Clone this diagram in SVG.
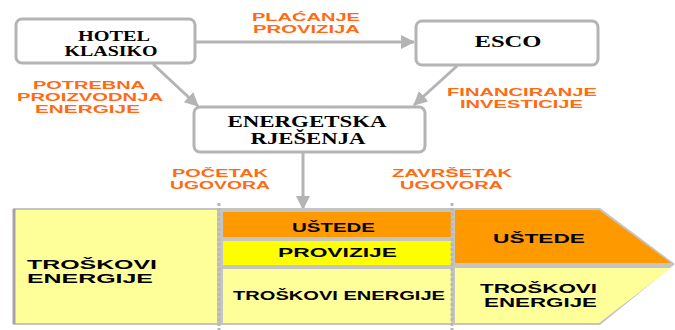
<svg xmlns="http://www.w3.org/2000/svg" width="675" height="330" viewBox="0 0 675 330">
<style>
.box{fill:#fff;stroke:#b4b4b4;stroke-width:3}
.bt{font-family:"Liberation Serif",serif;font-weight:bold;fill:#000;text-anchor:middle}
.lbl{font-family:"Liberation Sans",Arial,sans-serif;font-weight:bold;fill:#ff6a13;font-size:11px}
.bk{font-family:"Liberation Sans",Arial,sans-serif;font-weight:bold;fill:#000}
.con{stroke:#b4b4b4;stroke-width:3;fill:none}
.div{stroke:#b8b8b8;stroke-width:3;stroke-dasharray:3 2}
</style>
<defs>
<marker id="ah" viewBox="0 0 14 14" refX="13" refY="7" markerWidth="14" markerHeight="14" markerUnits="userSpaceOnUse" orient="auto">
<path d="M0,0 L14,7 L0,14 z" fill="#b4b4b4"/>
</marker>
</defs>
<rect width="675" height="330" fill="#fff"/>
<g id="connectors">
<line class="con" x1="195" y1="42" x2="414" y2="42" marker-end="url(#ah)"/>
<line class="con" x1="153" y1="64" x2="198" y2="106" marker-end="url(#ah)"/>
<line class="con" x1="457" y1="66" x2="414" y2="105" marker-end="url(#ah)"/>
<line class="con" x1="303" y1="153" x2="303" y2="209" marker-end="url(#ah)"/>
</g>
<g id="hotel">
<rect class="box" x="16" y="19" width="179" height="44" rx="6"/>
<text class="bt" font-size="15" x="114" y="41" textLength="72" lengthAdjust="spacingAndGlyphs">HOTEL</text>
<text class="bt" font-size="15" x="111" y="56" textLength="93" lengthAdjust="spacingAndGlyphs">KLASIKO</text>
</g>
<g id="esco">
<rect class="box" x="416" y="21" width="182" height="44" rx="6"/>
<text class="bt" font-size="17" x="508" y="47" textLength="67" lengthAdjust="spacingAndGlyphs">ESCO</text>
</g>
<g id="energetska">
<rect class="box" x="194" y="107" width="231" height="45" rx="6"/>
<text class="bt" font-size="16" x="307" y="127" textLength="159" lengthAdjust="spacingAndGlyphs">ENERGETSKA</text>
<text class="bt" font-size="16" x="308" y="144" textLength="115" lengthAdjust="spacingAndGlyphs">RJEŠENJA</text>
</g>
<g id="labels">
<text class="lbl" x="252" y="21" textLength="108" lengthAdjust="spacingAndGlyphs">PLAĆANJE</text>
<text class="lbl" x="253" y="33" textLength="107" lengthAdjust="spacingAndGlyphs">PROVIZIJA</text>
<text class="lbl" x="33" y="89" textLength="112" lengthAdjust="spacingAndGlyphs">POTREBNA</text>
<text class="lbl" x="17" y="101" textLength="146" lengthAdjust="spacingAndGlyphs">PROIZVODNJA</text>
<text class="lbl" x="35" y="113" textLength="105" lengthAdjust="spacingAndGlyphs">ENERGIJE</text>
<text class="lbl" x="447" y="96" textLength="150" lengthAdjust="spacingAndGlyphs">FINANCIRANJE</text>
<text class="lbl" x="460" y="108" textLength="123" lengthAdjust="spacingAndGlyphs">INVESTICIJE</text>
<text class="lbl" x="172" y="177" textLength="96" lengthAdjust="spacingAndGlyphs">POČETAK</text>
<text class="lbl" x="170" y="189" textLength="100" lengthAdjust="spacingAndGlyphs">UGOVORA</text>
<text class="lbl" x="392" y="177" textLength="120" lengthAdjust="spacingAndGlyphs">ZAVRŠETAK</text>
<text class="lbl" x="400" y="189" textLength="103" lengthAdjust="spacingAndGlyphs">UGOVORA</text>
</g>
<g id="timeline">
<polygon points="13,208 600,208 675,264 600,325 13,325" fill="#c4c4c4"/>
<rect x="15" y="210" width="202" height="113" fill="#ffff99"/>
<rect x="223" y="212" width="228" height="25" fill="#ff9900"/>
<rect x="223" y="241" width="228" height="24" fill="#ffff00"/>
<rect x="223" y="269" width="228" height="54" fill="#ffff99"/>
<polygon points="455,210 599,210 671,263 455,263" fill="#ff9900"/>
<polygon points="455,268 671,268 599,323 455,323" fill="#ffff99"/>
<line x1="14" y1="209" x2="14" y2="324" stroke="#a8a0a8" stroke-width="3"/>
<line class="div" x1="219" y1="203" x2="219" y2="330"/>
<line class="div" x1="452" y1="203" x2="452" y2="330"/>
<text class="bk" font-size="12.5" x="27" y="269" textLength="130" lengthAdjust="spacingAndGlyphs">TROŠKOVI</text>
<text class="bk" font-size="12.5" x="27" y="283" textLength="126" lengthAdjust="spacingAndGlyphs">ENERGIJE</text>
<text class="bk" font-size="13" x="292" y="232" textLength="83" lengthAdjust="spacingAndGlyphs">UŠTEDE</text>
<text class="bk" font-size="13" x="278" y="257" textLength="119" lengthAdjust="spacingAndGlyphs">PROVIZIJE</text>
<text class="bk" font-size="12" x="233" y="300" textLength="212" lengthAdjust="spacingAndGlyphs">TROŠKOVI ENERGIJE</text>
<text class="bk" font-size="13" x="493" y="243" textLength="92" lengthAdjust="spacingAndGlyphs">UŠTEDE</text>
<text class="bk" font-size="12.5" x="480" y="293" textLength="117" lengthAdjust="spacingAndGlyphs">TROŠKOVI</text>
<text class="bk" font-size="12.5" x="484" y="307" textLength="113" lengthAdjust="spacingAndGlyphs">ENERGIJE</text>
</g>
</svg>
